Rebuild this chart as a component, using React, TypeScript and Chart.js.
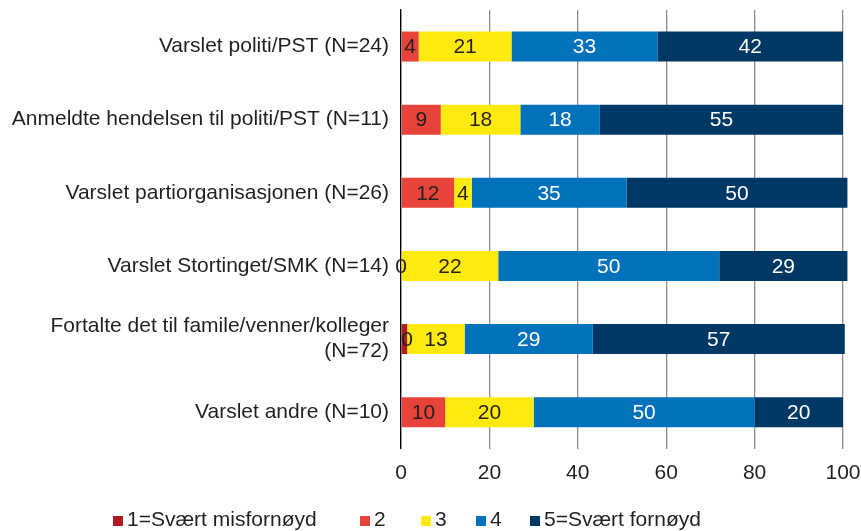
import React, { useEffect, useRef } from "react";
import { Chart, registerables } from "chart.js";

Chart.register(...registerables);

const categories: (string | string[])[] = [
  "Varslet politi/PST (N=24)",
  "Anmeldte hendelsen til politi/PST (N=11)",
  "Varslet partiorganisasjonen (N=26)",
  "Varslet Stortinget/SMK (N=14)",
  ["Fortalte det til famile/venner/kolleger", "(N=72)"],
  "Varslet andre (N=10)",
];

const seriesNames = ["1=Svært misfornøyd", "2", "3", "4", "5=Svært fornøyd"];
const s1 = [0, 0, 0, 0, 1.4, 0];
const s2 = [4, 9, 12, 0, 0, 10];
const s3 = [21, 18, 4, 22, 13, 20];
const s4 = [33, 18, 35, 50, 29, 50];
const s5 = [42, 55, 50, 29, 57, 20];
const xTicks = [0, 20, 40, 60, 80, 100];

const colors = ["#AD1A22", "#E8433A", "#FFEA0F", "#0071BB", "#003865"];
const labelColors = ["#231F20", "#231F20", "#231F20", "#FFFFFF", "#FFFFFF"];
const showLabels = [false, true, true, true, true];

const FONT = '"Liberation Sans", Arial, Helvetica, sans-serif';
const TEXT = "#231F20";

const labelPlugin = {
  id: "barLabels",
  afterDatasetsDraw(chart: any) {
    const ctx = chart.ctx;
    ctx.save();
    ctx.font = `21px ${FONT}`;
    ctx.textAlign = "center";
    ctx.textBaseline = "middle";
    chart.data.datasets.forEach((ds: any, i: number) => {
      if (!showLabels[i]) return;
      const meta = chart.getDatasetMeta(i);
      meta.data.forEach((el: any, j: number) => {
        const v = ds.data[j];
        if (v == null) return;
        const p = el.getCenterPoint();
        ctx.fillStyle = labelColors[i];
        ctx.fillText(String(Math.round(v)), p.x, p.y + 1);
      });
    });
    ctx.restore();
  },
};

const legendLeft = [113, 360, 421, 476, 530];

export default function App() {
  const ref = useRef<HTMLCanvasElement | null>(null);
  useEffect(() => {
    if (!ref.current) return;
    const all = [s1, s2, s3, s4, s5];
    const chart = new Chart(ref.current, {
      type: "bar",
      data: {
        labels: categories as any,
        datasets: all.map((d, i) => ({
          label: seriesNames[i],
          data: d,
          backgroundColor: colors[i],
          borderWidth: 0,
          barPercentage: 0.41,
          categoryPercentage: 1,
          clip: false as any,
        })),
      },
      options: {
        indexAxis: "y",
        responsive: false,
        animation: false,
        devicePixelRatio: 1,
        layout: { padding: { left: 0, right: 18, top: 10, bottom: 33 } },
        plugins: {
          legend: { display: false },
          tooltip: { enabled: false },
        },
        scales: {
          x: {
            stacked: true,
            min: 0,
            max: 100,
            afterBuildTicks: (s: any) => {
              s.ticks = xTicks.map((v) => ({ value: v }));
            },
            afterFit: (s: any) => {
              s.paddingLeft = 0;
              s.paddingRight = 0;
            },
            ticks: { font: { family: FONT, size: 21 }, color: TEXT, padding: 12 },
            grid: { color: "#8C8C8C", lineWidth: 1.3, drawTicks: false },
            border: { display: false },
          },
          y: {
            stacked: true,
            afterFit: (s: any) => {
              s.width = 401;
              s.paddingTop = 0;
              s.paddingBottom = 0;
            },
            ticks: { font: { family: FONT, size: 21, lineHeight: 1.2 }, color: TEXT, padding: 12 },
            grid: { display: false, drawTicks: false },
            border: { display: true, color: "#000000", width: 1.3 },
          },
        },
      },
      plugins: [labelPlugin],
    } as any);
    return () => chart.destroy();
  }, []);

  return (
    <div style={{ position: "fixed", left: 0, top: 0, width: 861, height: 531, background: "#fff" }}>
      <canvas ref={ref} width={861} height={531} style={{ display: "block" }} />
      {seriesNames.map((n, i) => (
        <div
          key={n}
          style={{
            position: "absolute",
            left: legendLeft[i],
            top: 507,
            display: "flex",
            alignItems: "center",
            fontFamily: FONT,
            fontSize: 21,
            color: TEXT,
            whiteSpace: "nowrap",
            lineHeight: "24px",
          }}
        >
          <span
            style={{
              display: "inline-block",
              width: 10,
              height: 10,
              background: colors[i],
              marginRight: 4,
              marginTop: 4,
            }}
          />
          <span>{n}</span>
        </div>
      ))}
    </div>
  );
}
